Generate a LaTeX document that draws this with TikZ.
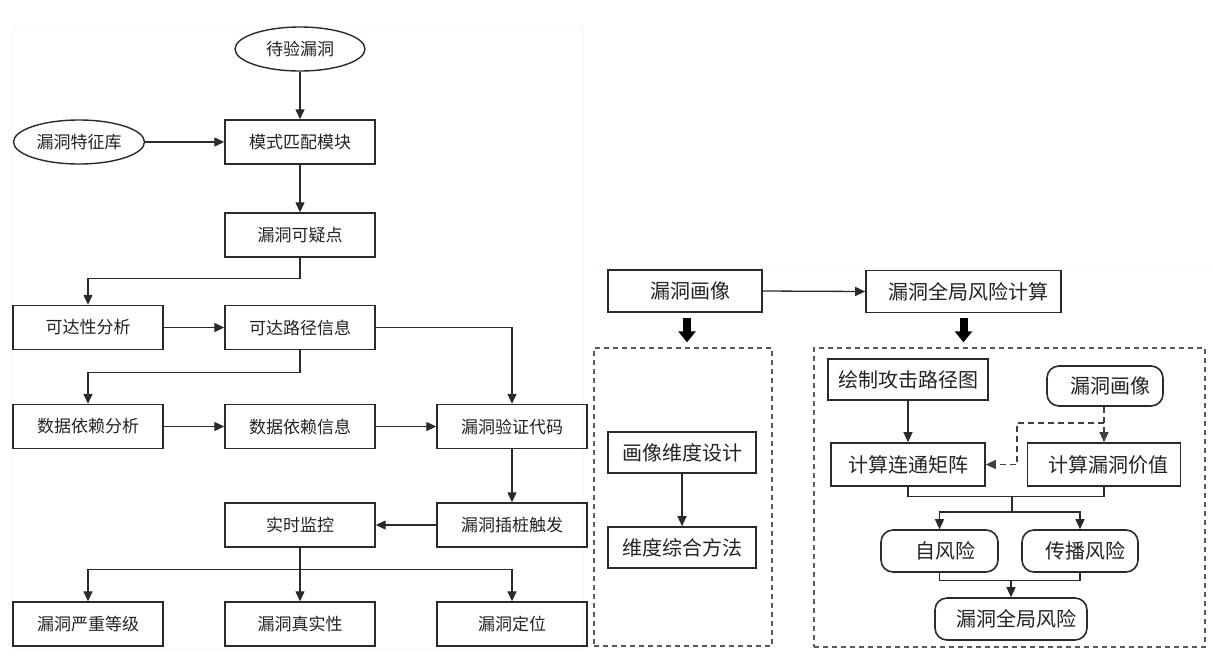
\documentclass[tikz,border=0pt]{standalone}
\usepackage{fontspec}
\setmainfont{Noto Sans CJK SC}
\usetikzlibrary{arrows.meta,shapes.geometric,calc}
\definecolor{lc}{HTML}{2A2A2A}
\definecolor{tc}{HTML}{222222}
\begin{document}
\begin{tikzpicture}[x=1pt,y=-1pt,
  lbox/.style={draw=lc, line width=1.4pt, rectangle, minimum width=150pt, minimum height=44pt, inner sep=0pt, text=tc, font=\fontsize{17}{20}\selectfont},
  lell/.style={draw=lc, line width=1.4pt, ellipse, minimum width=130pt, minimum height=44pt, inner sep=0pt, text=tc, font=\fontsize{17}{20}\selectfont},
  rbox/.style={draw=lc, line width=1.6pt, rectangle, minimum height=42pt, inner sep=0pt, text=tc, font=\fontsize{20}{24}\selectfont},
  rround/.style={rbox, rounded corners=12pt},
  dbox/.style={draw=black!65, line width=1.3pt, dash pattern=on 5pt off 4pt, rectangle, inner sep=0pt},
  ln/.style={draw=lc, line width=1.3pt},
  arr/.style={ln, -{Triangle[length=10pt,width=9pt]}},
  darr/.style={arr, draw=black!75, dash pattern=on 6pt off 4pt},
  fat/.style={draw=black, line width=8pt, -{Triangle[length=11pt,width=17pt]}},
  faint/.style={draw=black!3, line width=0.6pt}
]
\useasboundingbox (0,0) rectangle (1214,654);
\fill[white] (0,0) rectangle (1214,654);
\draw[faint] (12,26) rectangle (583,648);
\draw[faint] (594,268) -- (1214,268);

% ---------------- left flowchart ----------------
\node[lell] (todo) at (300,49) {待验漏洞};
\node[lell, minimum width=131pt] (lib) at (79,142) {漏洞特征库};
\node[lbox] (match) at (300,142) {模式匹配模块};
\node[lbox] (sus) at (300,235) {漏洞可疑点};
\node[lbox] (reach) at (88,327.5) {可达性分析};
\node[lbox] (rpath) at (300,327.5) {可达路径信息};
\node[lbox] (dep) at (88,426.5) {数据依赖分析};
\node[lbox] (depi) at (300,426.5) {数据依赖信息};
\node[lbox] (verify) at (512,426.5) {漏洞验证代码};
\node[lbox] (mon) at (300,525) {实时监控};
\node[lbox] (trig) at (512,525) {漏洞插桩触发};
\node[lbox] (sev) at (88,624) {漏洞严重等级};
\node[lbox] (real) at (300,624) {漏洞真实性};
\node[lbox] (loc) at (512,624) {漏洞定位};

\draw[arr] (todo.south) -- (match.north);
\draw[arr] (lib.east) -- (match.west);
\draw[arr] (match.south) -- (sus.north);
\draw[arr] (sus.south) -- ++(0,21) -| (reach.north);
\draw[arr] (reach.east) -- (rpath.west);
\draw[arr] (rpath.east) -| (verify.north);
\draw[arr] (rpath.south) -- ++(0,22.5) -| (dep.north);
\draw[arr] (dep.east) -- (depi.west);
\draw[arr] (depi.east) -- (verify.west);
\draw[arr] (verify.south) -- (trig.north);
\draw[arr] (trig.west) -- (mon.east);
\draw[arr] (mon.south) -- (real.north);
\draw[arr] (mon.south) -- ++(0,22) -| (sev.north);
\draw[arr] (mon.south) -- ++(0,22) -| (loc.north);

% ---------------- right part ----------------
\node[rbox, minimum width=154pt] (img) at (685,291) {\hspace*{10pt}漏洞画像};
\node[rbox, minimum width=195pt] (risk) at (963.5,291.5) {\hspace*{10pt}漏洞全局风险计算};
\draw[arr] (img.east) -- (risk.west);

\node[dbox, minimum width=178pt, minimum height=298pt] (dl) at (683,497) {};
\node[dbox, minimum width=391pt, minimum height=299pt] (dr) at (1009.5,497.5) {};

\draw[fat] ($(img.south)+(2,5)$) -- ($(img.south |- dl.north)+(2,-5)$);
\draw[fat] ($(risk.south)+(0,5)$) -- ($(risk.south |- dr.north)+(0,-5)$);

\node[rbox, minimum width=148pt, minimum height=41pt] (dim) at (682,452.5) {画像维度设计};
\node[rbox, minimum width=148pt, minimum height=41pt] (comb) at (682,547.5) {维度综合方法};
\draw[arr] (dim.south) -- (comb.north);

\node[rbox, minimum width=160pt, minimum height=41pt] (draw) at (908,379.5) {绘制攻击路径图};
\node[rround, minimum width=116pt, minimum height=40pt] (rimg) at (1105,386) {\hspace*{10pt}漏洞画像};
\node[rbox, minimum width=154pt, minimum height=43pt] (conn) at (908,464.5) {计算连通矩阵};
\node[rbox, minimum width=153pt, minimum height=43pt] (val) at (1104,464.5) {\hspace*{9pt}计算漏洞价值};
\node[rround, minimum width=117pt, minimum height=42pt] (selfr) at (939.5,551) {\hspace*{11pt}自风险};
\node[rround, minimum width=116pt, minimum height=42pt] (prop) at (1080,551) {\hspace*{10pt}传播风险};
\node[rround, minimum width=152pt, minimum height=42pt] (glob) at (1011,619) {\hspace*{10pt}漏洞全局风险};

\draw[arr] (draw.south) -- (conn.north);
\draw[darr] (val.north |- rimg.south) -- (val.north);
\coordinate (dj) at (1104,423);
\coordinate (dk) at (1017,423);
\draw[darr] (dj) -- (dk) |- (conn.east);

\draw[ln] (conn.south) -- ++(0,10) -| (val.south);
\coordinate (m1) at (1012,496);
\coordinate (m2) at (1012,512);
\draw[ln] (m1) -- (m2);
\draw[arr] (m2) -| (selfr.north);
\draw[arr] (m2) -| (prop.north);

\draw[ln] (selfr.south) -- ++(0,8) -| (prop.south);
\coordinate (m3) at (1011,580);
\draw[arr] (m3) -- (glob.north);
\end{tikzpicture}
\end{document}
